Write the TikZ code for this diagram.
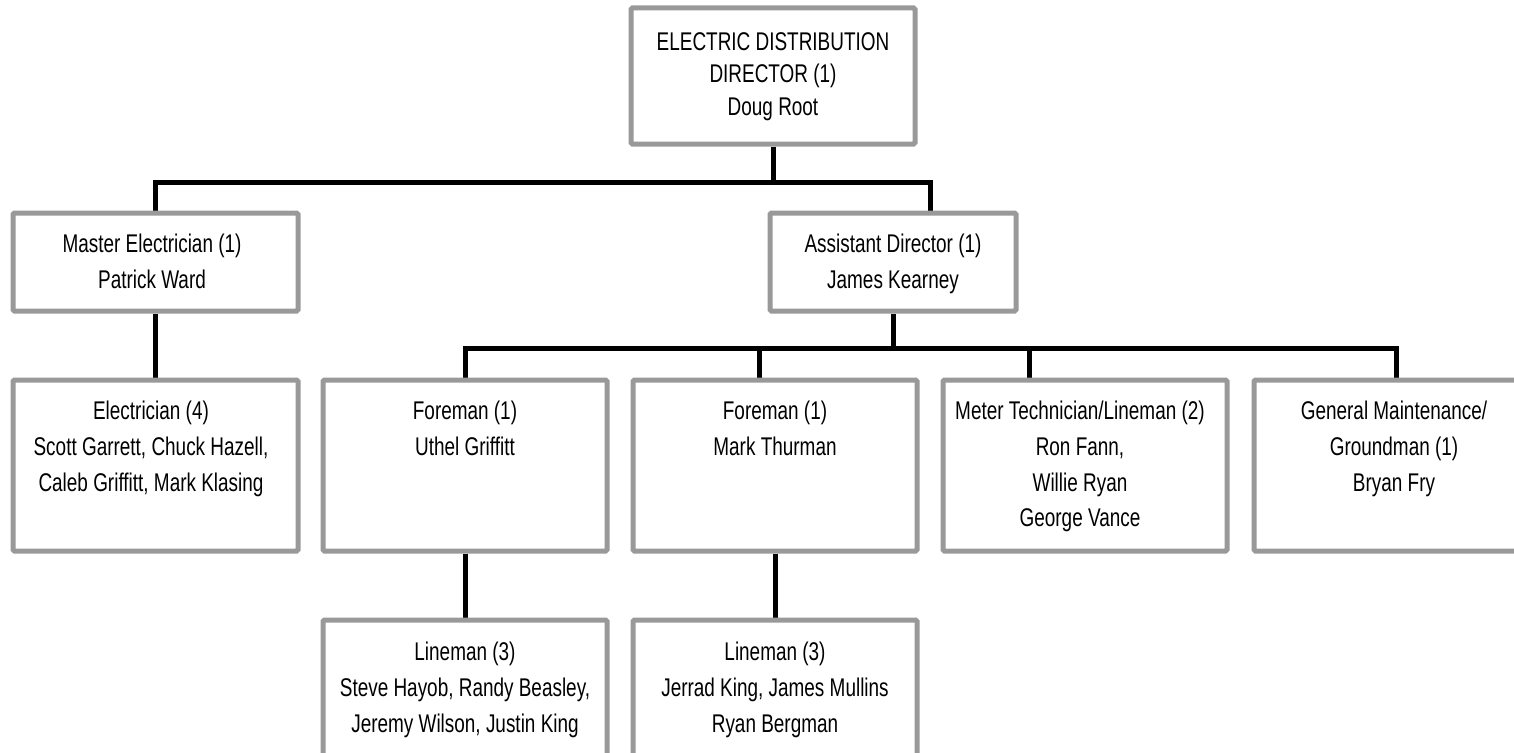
\documentclass[tikz,border=0pt]{standalone}
\usepackage{fontspec}
\setmainfont{Liberation Sans}[FakeStretch=0.74]
\usetikzlibrary{backgrounds}
\definecolor{boxgray}{RGB}{153,153,153}
\begin{document}
\begin{tikzpicture}[x=1pt,y=-1pt,
  box/.style={draw=boxgray,line width=5pt,rounded corners=1.5pt,inner sep=0pt,fill=white},
  txt/.style={anchor=north,inner sep=0pt,align=center,font=\fontsize{25.6}{35.7}\selectfont},
  toptxt/.style={txt,font=\fontsize{25.6}{32.5}\selectfont},
  conn/.style={line width=5pt,black,line join=miter}]
\useasboundingbox (0,0) rectangle (1514,752);
% boxes
\node[box,minimum width=284pt,minimum height=136pt] (top) at (773,76) {};
\node[box,minimum width=285pt,minimum height=98pt] (me) at (155.5,262) {};
\node[box,minimum width=246pt,minimum height=98pt] (ad) at (893,262) {};
\node[box,minimum width=285pt,minimum height=171pt] (el) at (155.5,465.5) {};
\node[box,minimum width=284pt,minimum height=171pt] (f1) at (465,465.5) {};
\node[box,minimum width=284pt,minimum height=171pt] (f2) at (775,465.5) {};
\node[box,minimum width=284pt,minimum height=171pt] (mt) at (1085,465.5) {};
\node[box,minimum width=284pt,minimum height=171pt] (gm) at (1396,465.5) {};
\node[box,minimum width=284pt,minimum height=170pt] (l1) at (465,705) {};
\node[box,minimum width=284pt,minimum height=170pt] (l2) at (775,705) {};
% texts
\node[toptxt] (top-t) at (773,32) {ELECTRIC DISTRIBUTION\\DIRECTOR (1)\\Doug Root};
\node[txt] (me-t) at (152,234) {Master Electrician (1)\\Patrick Ward};
\node[txt] (ad-t) at (893,234) {Assistant Director (1)\\James Kearney};
\node[txt] (el-t) at (151,401) {Electrician (4)\\Scott Garrett, Chuck Hazell,\\Caleb Griffitt, Mark Klasing};
\node[txt] (f1-t) at (465,401) {Foreman (1)\\Uthel Griffitt};
\node[txt] (f2-t) at (775,401) {Foreman (1)\\Mark Thurman};
\node[txt] (mt-t) at (1080,401) {Meter Technician/Lineman (2)\\Ron Fann,\\Willie Ryan\\George Vance};
\node[txt] (gm-t) at (1394,401) {General Maintenance/\\Groundman (1)\\Bryan Fry};
\node[txt] (l1-t) at (465,642) {Lineman (3)\\Steve Hayob, Randy Beasley,\\Jeremy Wilson, Justin King};
\node[txt] (l2-t) at (775,642) {Lineman (3)\\Jerrad King, James Mullins\\Ryan Bergman};
% connectors
\coordinate (b1R) at (930,182);
\coordinate (b2R) at (1396,348);
\coordinate (j2) at (759,348);
\coordinate (j3) at (1029,348);
\begin{scope}[on background layer]
\draw[conn] (top.south) -- (top.south |- b1R);
\draw[conn] (me.north) |- (b1R) -- (b1R |- ad.north);
\draw[conn] (me.south) -- (el.north);
\draw[conn] (ad.south) -- (ad.south |- b2R);
\draw[conn] (f1.north) |- (b2R) -- (gm.north);
\draw[conn] (j2) -- (j2 |- f2.north);
\draw[conn] (j3) -- (j3 |- mt.north);
\draw[conn] (f1.south) -- (l1.north);
\draw[conn] (f2.south) -- (l2.north);
\end{scope}
\end{tikzpicture}
\end{document}
